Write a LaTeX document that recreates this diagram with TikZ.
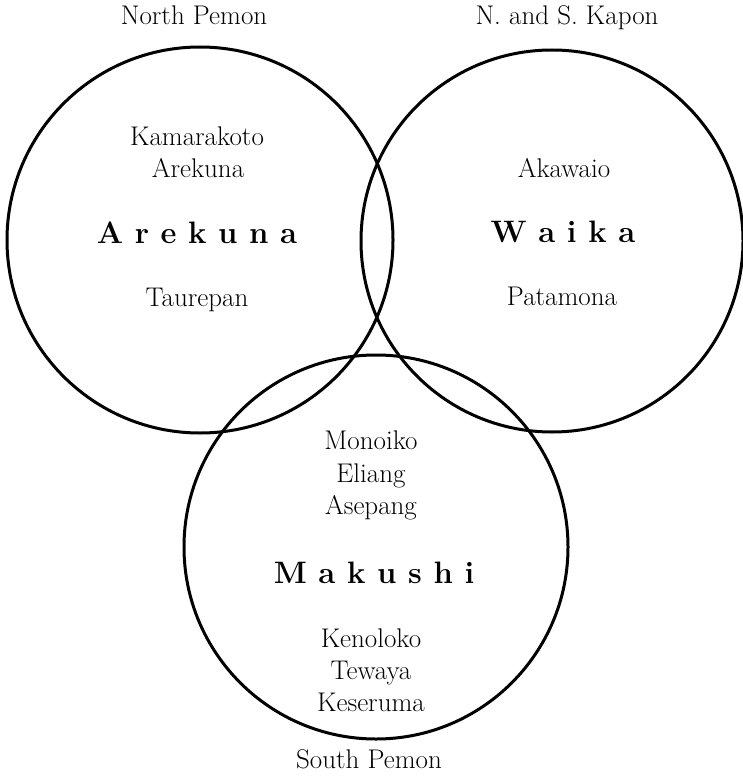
\documentclass[tikz,border=0pt]{standalone}
\begin{document}
\begin{tikzpicture}[x=1pt,y=-1pt,
  ring/.style={draw, circle, line width=3pt, inner sep=0pt},
  lbl/.style={anchor=base, inner sep=0pt, font=\fontsize{27}{32}\selectfont},
  big/.style={anchor=base, inner sep=0pt, font=\fontsize{31}{36}\selectfont\bfseries}]
\useasboundingbox (0,0) rectangle (742,778);
% circles
\node[ring, minimum size=386pt] (cl) at (200,240) {};
\node[ring, minimum size=382pt] (cr) at (552,241) {};
\node[ring, minimum size=384pt] (cb) at (376,547) {};
% outer labels
\node[lbl] (np) at (194,25) {North Pemon};
\node[lbl] (nk) at (567,25) {N.\ and S. Kapon};
\node[lbl] (sp) at (369,768) {South Pemon};
% left circle
\node[lbl] (l1) at (197,146) {Kamarakoto};
\node[lbl] (l2) at (198,177) {Arekuna};
\node[big] (l3) at (197,243) {A r e k u n a};
\node[lbl] (l4) at (197,306) {Taurepan};
% right circle
\node[lbl] (r1) at (564,177) {Akawaio};
\node[big] (r2) at (563,242) {W a i k a};
\node[lbl] (r3) at (562,305) {Patamona};
% bottom circle
\node[lbl] (b1) at (371,449) {Monoiko};
\node[lbl] (b2) at (371,482) {Eliang};
\node[lbl] (b3) at (371,514) {Asepang};
\node[big] (b4) at (374,583) {M a k u s h i};
\node[lbl] (b5) at (371,647) {Kenoloko};
\node[lbl] (b6) at (371,679) {Tewaya};
\node[lbl] (b7) at (371,711) {Keseruma};
\end{tikzpicture}
\end{document}
